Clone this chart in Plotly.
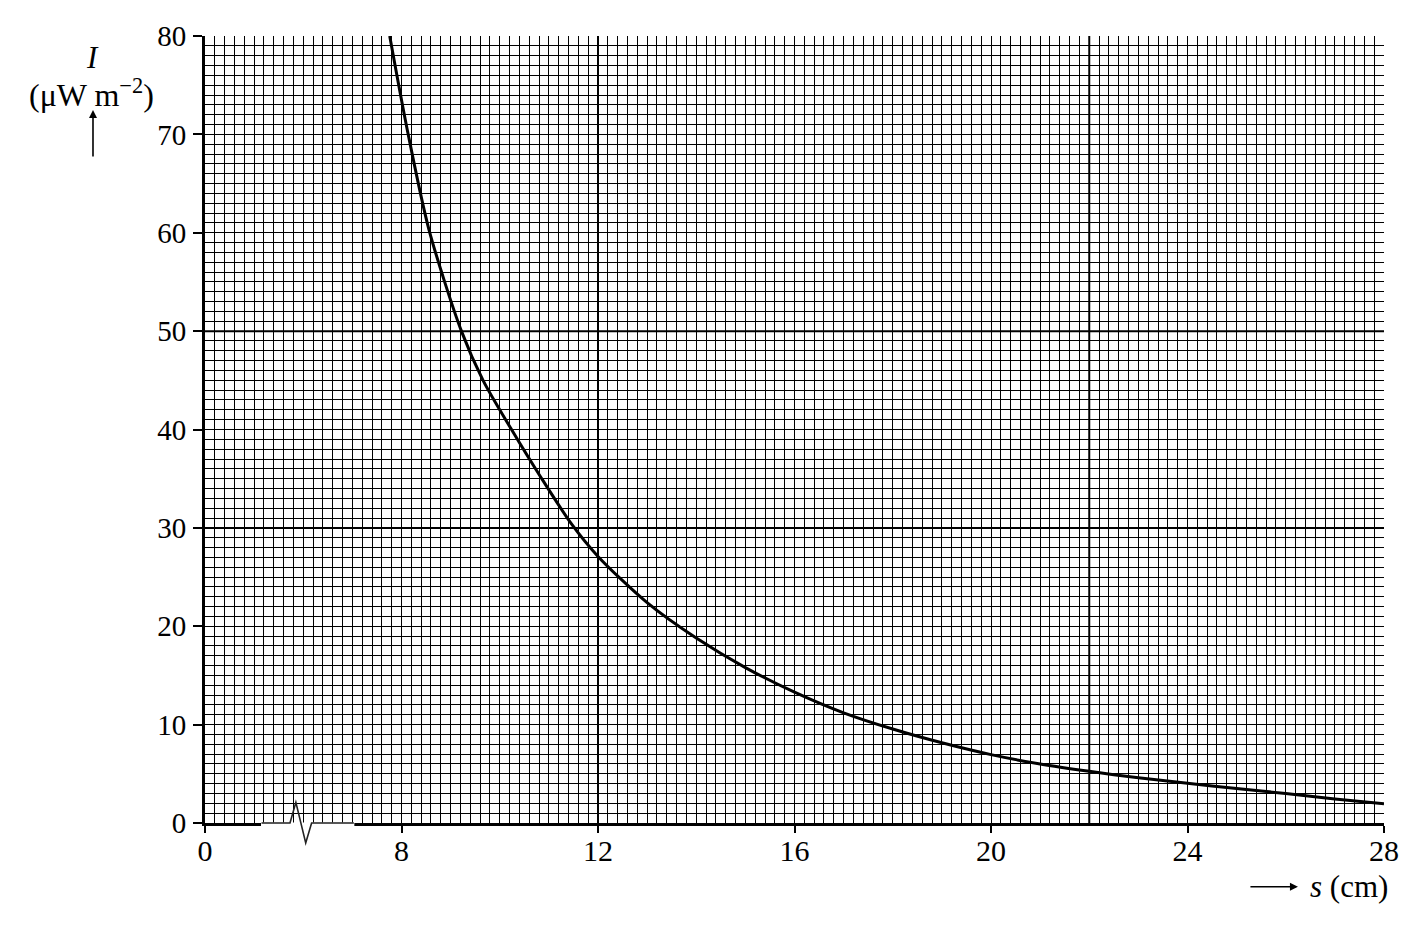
import plotly.graph_objects as go

# distance s (cm) and intensity I (uW m^-2)
s_cm = [7.76, 8.12, 8.56, 9.22, 9.66, 10.24, 10.83, 11.46, 12.0, 13.0, 14.0, 15.0, 16.0,
        17.0, 18.0, 19.0, 20.0, 21.0, 22.0, 23.0, 24.0, 25.0, 26.0, 27.0, 28.0]
intensity = [80.0, 70.4, 60.3, 50.0, 45.0, 40.0, 35.2, 30.4, 27.1, 22.4, 18.8, 15.8, 13.3,
             11.2, 9.55, 8.15, 6.95, 6.0, 5.25, 4.6, 4.05, 3.5, 3.0, 2.45, 1.95]

# axis is broken: the "0" label sits where s = 4
x_tickvals = [4, 8, 12, 16, 20, 24, 28]
x_ticktext = ["0", "8", "12", "16", "20", "24", "28"]
y_tickvals = [0, 10, 20, 30, 40, 50, 60, 70, 80]
bold_x = [12, 22]
bold_y = [30, 50]

# page body has an 8px margin, so the figure is a bit smaller than the window
W, H = 1411, 912
ML, MR, MT, MB = 197, 35, 28, 97
FONT = "Liberation Serif"

fig = go.Figure()
fig.add_trace(go.Scatter(x=s_cm, y=intensity, mode="lines",
                         line=dict(color="black", width=3, shape="spline", smoothing=0.8),
                         hoverinfo="skip", showlegend=False))

# thicker grid lines of the graph paper
for xv in bold_x:
    fig.add_shape(type="line", xref="x", yref="y", x0=xv, x1=xv, y0=0, y1=80,
                  line=dict(color="black", width=2), layer="below")
for yv in bold_y:
    fig.add_shape(type="line", xref="x", yref="y", x0=4, x1=28, y0=yv, y1=yv,
                  line=dict(color="black", width=2), layer="below")

# axis break symbol on the s axis (axis line sits ~1.5px below the plot edge)
fig.add_shape(type="line", xref="x", yref="paper", x0=5.14, x1=7.04, y0=-0.002, y1=-0.002,
              line=dict(color="white", width=4), layer="above")
fig.add_shape(type="path", xref="x", yref="paper",
              path="M 5.15 0 L 5.73 0 L 5.85 0.0262 L 6.05 -0.0254 L 6.17 0 L 7.03 0",
              line=dict(color="#222222", width=1.6), layer="above")

fig.add_annotation(x=-0.095, y=0.973, xref="paper", yref="paper", text="<i>I</i>",
                   xanchor="center", yanchor="middle", showarrow=False,
                   font=dict(family=FONT, size=31, color="black"))
fig.add_annotation(x=-0.096, y=0.927, xref="paper", yref="paper",
                   text="(μW m<sup>−2</sup>)", xanchor="center", yanchor="middle",
                   showarrow=False, font=dict(family=FONT, size=32, color="black"))
fig.add_annotation(x=-0.095, y=0.906, xref="paper", yref="paper", text="",
                   showarrow=True, ax=0, ay=48, arrowhead=2, arrowsize=1, arrowwidth=1.6,
                   arrowcolor="black")
fig.add_annotation(x=0.927, y=-0.081, xref="paper", yref="paper", text="",
                   showarrow=True, ax=-49, ay=0, arrowhead=2, arrowsize=1, arrowwidth=1.6,
                   arrowcolor="black")
fig.add_annotation(x=0.9705, y=-0.081, xref="paper", yref="paper",
                   text="<i>s</i> (cm)", xanchor="center", yanchor="middle",
                   showarrow=False, font=dict(family=FONT, size=31, color="black"))

fig.update_xaxes(range=[4, 28], tickmode="array", tickvals=x_tickvals, ticktext=x_ticktext,
                 showgrid=True, gridcolor="black", gridwidth=1,
                 minor=dict(tick0=4, dtick=0.2, showgrid=True, gridcolor="black", gridwidth=1),
                 showline=True, linecolor="black", linewidth=3, zeroline=False,
                 ticks="outside", ticklen=7, tickwidth=2, tickcolor="black",
                 ticklabelstandoff=-8,
                 tickfont=dict(family=FONT, size=30, color="black"), automargin=False)
fig.update_yaxes(range=[0, 80], tickmode="array", tickvals=y_tickvals,
                 showgrid=True, gridcolor="black", gridwidth=1,
                 minor=dict(tick0=0, dtick=1, showgrid=True, gridcolor="black", gridwidth=1),
                 showline=True, linecolor="black", linewidth=3, zeroline=False,
                 ticks="outside", ticklen=9, tickwidth=2, tickcolor="black",
                 ticklabelstandoff=1,
                 tickfont=dict(family=FONT, size=29, color="black"), automargin=False)

fig.update_layout(width=W, height=H, autosize=False,
                  margin=dict(l=ML, r=MR, t=MT, b=MB),
                  plot_bgcolor="white", paper_bgcolor="white",
                  font=dict(family=FONT, color="black"), showlegend=False)

fig.write_html("out.html")
